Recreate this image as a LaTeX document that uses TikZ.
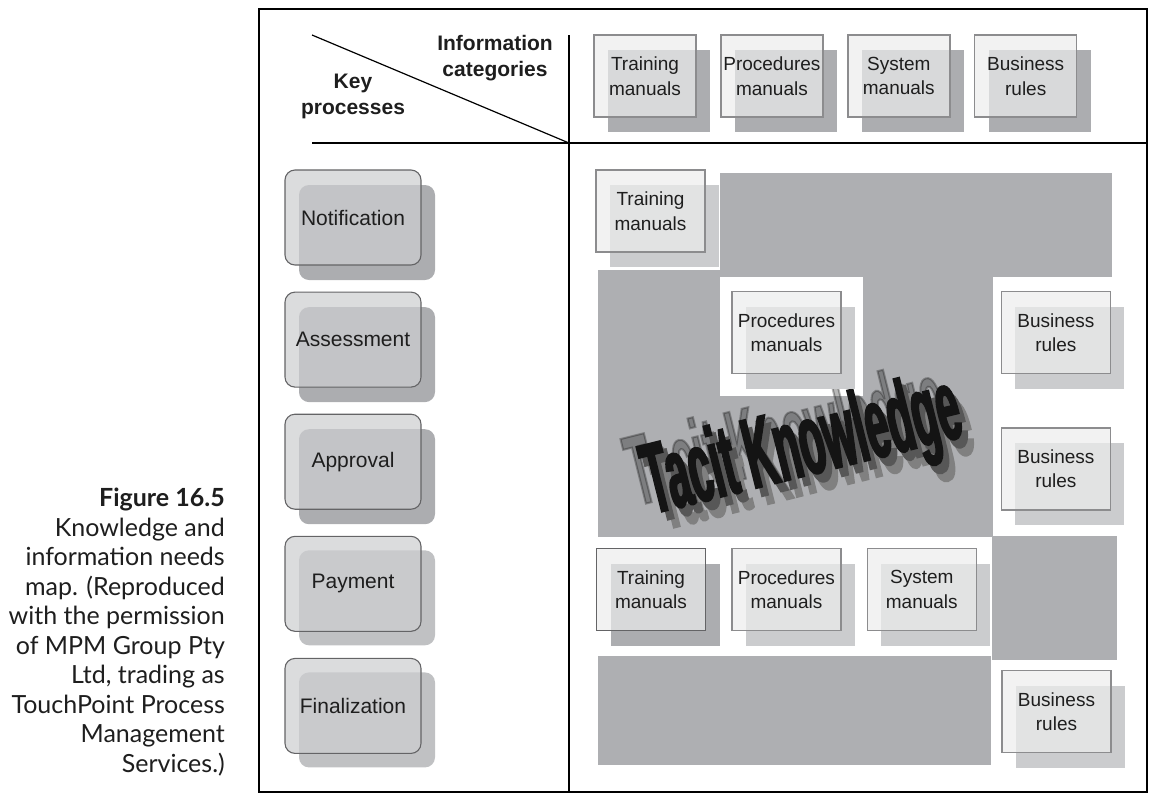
\documentclass[tikz,border=0pt]{standalone}
\usepackage{fontspec}
\setmainfont{Liberation Sans}
\newfontfamily\captionfont{Lato}
\newfontfamily\tacitfont[FakeStretch=0.41,FakeBold=2]{Liberation Sans}
\usetikzlibrary{positioning,shadows}

\definecolor{regiongray}{RGB}{174,175,178}
\definecolor{shadedark}{RGB}{172,173,176}
\definecolor{shadelight}{RGB}{203,204,206}
\definecolor{shadeproc}{RGB}{192,193,195}
\definecolor{boxfront}{RGB}{236,237,237}
\definecolor{procfront}{RGB}{205,206,208}
\definecolor{boxline}{RGB}{140,140,142}
\definecolor{procline}{RGB}{100,100,102}
\definecolor{inktext}{RGB}{30,30,30}

\begin{document}
\begin{tikzpicture}[
  x=1pt, y=-1pt,
  font=\fontsize{19}{24.5}\selectfont,
  infobox/.style={draw=boxline, line width=1.4pt, fill=boxfront, fill opacity=0.7, text opacity=1, text=inktext, align=center, inner sep=0pt, minimum width=109pt, minimum height=82pt},
  headbox/.style={infobox, minimum width=102pt},
  procbox/.style={draw=procline, line width=1.1pt, rounded corners=10pt, fill=procfront, fill opacity=0.72, text opacity=1, text=inktext, inner sep=0pt, minimum width=136pt, minimum height=95pt, font=\fontsize{21}{24}\selectfont},
  darkshade/.style={drop shadow={shadow xshift=14pt, shadow yshift=-15pt, fill=shadedark, opacity=1}},
  lightshade/.style={drop shadow={shadow xshift=14pt, shadow yshift=-15pt, fill=shadelight, opacity=1}},
  procshade/.style={drop shadow={shadow xshift=14pt, shadow yshift=-14pt, fill=shadeproc, opacity=1}},
  heading/.style={align=center, inner sep=0pt, text=inktext, font=\bfseries\fontsize{21}{26}\selectfont},
  tacit/.style={inner sep=0pt, rotate=14, font=\tacitfont\bfseries\fontsize{100}{100}\selectfont},
  rule/.style={line width=1.2pt}
]
\useasboundingbox (0,0) rectangle (1151,796);

% frame and table rules
\draw[line width=2.6pt] (259,9) rectangle (1147,792);
\draw[rule] (569,35) -- (569,792);
\draw[rule] (312,143) -- (1147,143);
\draw[rule] (312,35) -- (569,143);

\node[heading] (infohead) at (495,58) {Information\\categories};
\node[heading] (keyhead) at (353,96) {Key\\processes};

% gray regions of the map
\fill[regiongray] (720,173) rectangle (1112,277);
\fill[regiongray] (598,270) rectangle (993,537);
\fill[white] (720,277) rectangle (863,396);
\fill[regiongray] (992,536) rectangle (1117,660);
\fill[regiongray] (598,656) rectangle (991,765);

% tacit knowledge lettering
\coordinate (tacitpos) at (803,450);
\node[tacit, text=black, opacity=0.28] (tacitghost) at ([xshift=-16pt, yshift=8pt]tacitpos) {Tacit Knowledge};
\node[tacit, text=black!50] (tacitback) at ([xshift=12pt, yshift=-16pt]tacitpos) {Tacit Knowledge};
\node[tacit, text=black!66] (tacitmid) at ([xshift=6pt, yshift=-8pt]tacitpos) {Tacit Knowledge};
\node[tacit, text=black!92] (tacit) at (tacitpos) {Tacit Knowledge};

% information categories
\node[headbox, darkshade] (catTrain) at (645,76) {Training\\manuals};
\node[headbox, darkshade, right=23.5pt of catTrain] (catProc) {Procedures\\manuals};
\node[headbox, darkshade, right=23.5pt of catProc] (catSys) {System\\manuals};
\node[headbox, darkshade, right=23.5pt of catSys] (catBus) {Business\\rules};

% key processes
\node[procbox, darkshade] (notif) at (353,217.5) {Notification};
\node[procbox, darkshade, below=26pt of notif] (assess) {Assessment};
\node[procbox, darkshade, below=26pt of assess] (approv) {Approval};
\node[procbox, procshade, below=26pt of approv] (pay) {Payment};
\node[procbox, procshade, below=26pt of pay] (final) {Finalization};

% needs per process
\node[infobox, lightshade] (trainA) at (650.5,211) {Training\\manuals};
\node[infobox, lightshade] (procA) at (786.5,332.5) {Procedures\\manuals};
\node[infobox, lightshade, right=159pt of procA] (busA) {Business\\rules};
\node[infobox, lightshade, below=53pt of busA] (busB) {Business\\rules};
\node[infobox, darkshade, draw=procline] (trainB) at (651,589.5) {Training\\manuals};
\node[infobox, lightshade, right=25pt of trainB] (procB) {Procedures\\manuals};
\node[infobox, lightshade, right=25pt of procB] (sysB) {System\\manuals};
\node[infobox, lightshade] (busC) at (1056.5,711.5) {Business\\rules};

% caption
\node[anchor=north east, align=right, inner sep=0pt, text=inktext, font=\captionfont\fontsize{25}{29.5}\selectfont] (caption) at (225,488)
  {{\bfseries Figure 16.5}\\Knowledge and\\information needs\\map. (Reproduced\\with the permission\\of MPM Group Pty\\Ltd, trading as\\TouchPoint Process\\Management\\Services.)};

\end{tikzpicture}
\end{document}
